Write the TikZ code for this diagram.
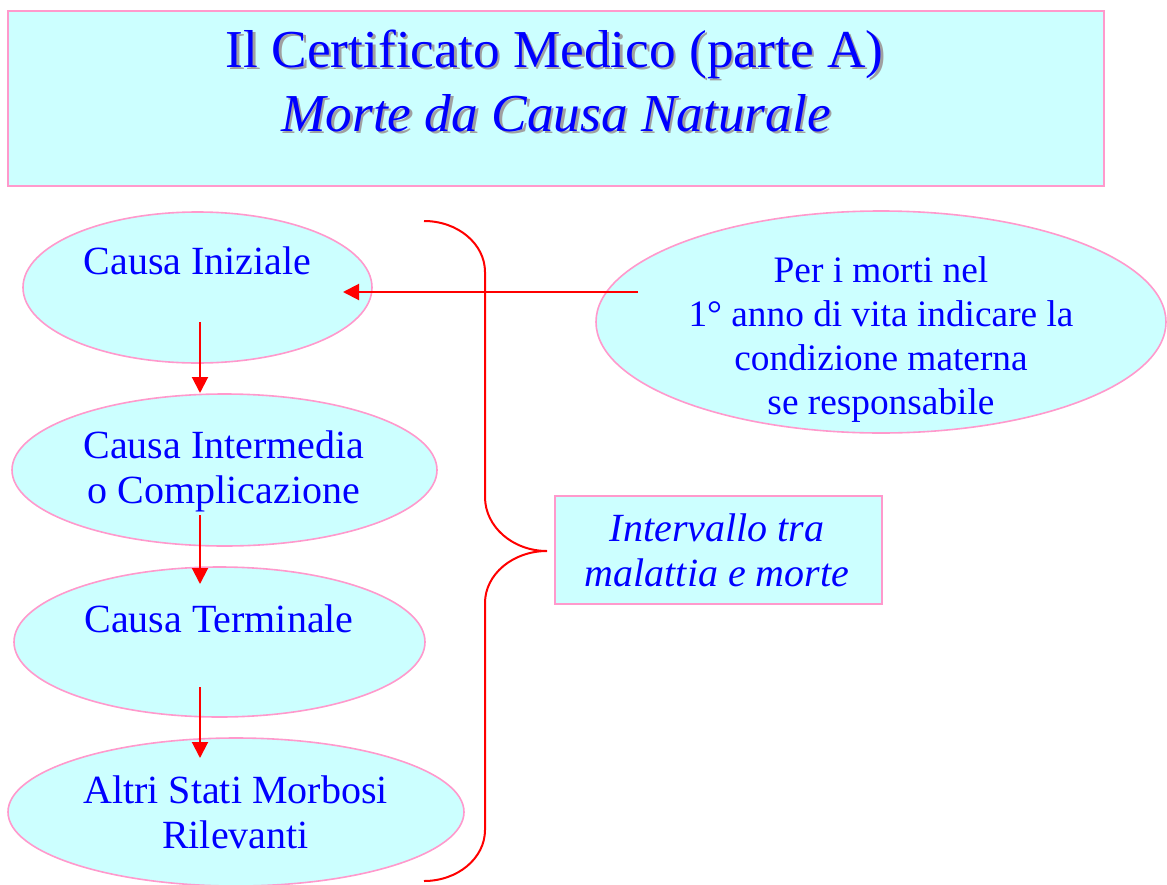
\documentclass[tikz,border=0pt]{standalone}
\usepackage{fontspec}
\setmainfont{Liberation Serif}
\usetikzlibrary{arrows.meta,shapes.geometric}
\definecolor{boxfill}{HTML}{CCFFFF}
\definecolor{boxline}{HTML}{FF99CC}
\definecolor{txtblue}{HTML}{0000FF}
\definecolor{arrred}{HTML}{FF0000}
\definecolor{shadowgray}{HTML}{A0A0A0}
\begin{document}
\begin{tikzpicture}[x=0.75pt,y=-0.75pt,
  bubble/.style={ellipse, draw=boxline, fill=boxfill, line width=1.2pt, inner sep=0pt},
  lbl/.style={font=\fontsize{30}{33.5}\selectfont, text=txtblue, align=center, inner sep=0pt, anchor=base},
  titletxt/.style={font=\fontsize{40}{48}\selectfont, text=txtblue, inner sep=0pt, anchor=base},
  titleshadow/.style={font=\fontsize{40}{48}\selectfont, text=shadowgray, inner sep=0pt, anchor=base},
  arr/.style={draw=arrred, line width=1.5pt, -{Triangle[length=12pt,width=12pt]}},
  bracestyle/.style={draw=arrred, line width=1.5pt}]
\useasboundingbox (0,0) rectangle (1167,885);
% title box
\node[draw=boxline, fill=boxfill, line width=2pt, minimum width=822pt, minimum height=131.25pt, inner sep=0pt] (titlebox) at (556,98.5) {};
\node[titleshadow] (tshadow1) at (557,69.5) {Il Certificato Medico (parte A)};
\node[titletxt] (title1) at (554.5,67) {Il Certificato Medico (parte A)};
\node[titleshadow] (tshadow2) at (558.5,133.5) {\itshape Morte da Causa Naturale};
\node[titletxt] (title2) at (556,131) {\itshape Morte da Causa Naturale};
% ellipses
\node[bubble, minimum width=261.75pt, minimum height=113.25pt] (e1) at (197.5,287.5) {};
\node[bubble, minimum width=318.75pt, minimum height=114pt] (e2) at (224.5,470) {};
\node[bubble, minimum width=308.25pt, minimum height=112.5pt] (e3) at (219.5,642) {};
\node[bubble, minimum width=342pt, minimum height=111pt] (e4) at (236,812) {};
\node[bubble, minimum width=427.5pt, minimum height=166.5pt] (eright) at (881,322) {};
\node[draw=boxline, fill=boxfill, line width=1.8pt, minimum width=245.25pt, minimum height=81pt, inner sep=0pt] (interval) at (718.5,550) {};
% labels (base anchor = last line baseline)
\node[lbl] (l1) at (197.5,274) {Causa Iniziale};
\node[lbl] (l2) at (224,503) {Causa Intermedia\\o Complicazione};
\node[lbl] (l3) at (219,632) {Causa Terminale};
\node[lbl] (l4) at (235.5,848) {Altri Stati Morbosi\\Rilevanti};
\node[lbl, font=\fontsize{28}{32.8}\selectfont] (lr) at (881,414) {Per i morti nel\\1° anno di vita indicare la\\condizione materna\\se responsabile};
\node[lbl, font=\fontsize{30}{33.2}\selectfont\itshape] (li) at (717,586) {Intervallo tra\\malattia e morte};
% arrows
\coordinate (a1s) at (200,322);
\coordinate (a1e) at (200,393);
\coordinate (a2s) at (200,515);
\coordinate (a2e) at (200,584);
\coordinate (a3s) at (200,687);
\coordinate (a3e) at (200,758);
\coordinate (ahs) at (638,292);
\coordinate (ahe) at (343,292);
\draw[arr] (a1s) -- (a1e);
\draw[arr] (a2s) -- (a2e);
\draw[arr] (a3s) -- (a3e);
\draw[arr] (ahs) -- (ahe);
% brace
\coordinate (btop) at (424,221);
\coordinate (btip) at (547,551);
\coordinate (bbot) at (424,881);
\draw[bracestyle] (btop) .. controls (457.7,221) and (485,243.8) .. (485,272) -- (485,497)
  .. controls (485,526.8) and (512.8,551) .. (btip)
  .. controls (512.8,551) and (485,574.3) .. (485,603) -- (485,830)
  .. controls (485,858.2) and (457.7,881) .. (bbot);
\end{tikzpicture}
\end{document}
